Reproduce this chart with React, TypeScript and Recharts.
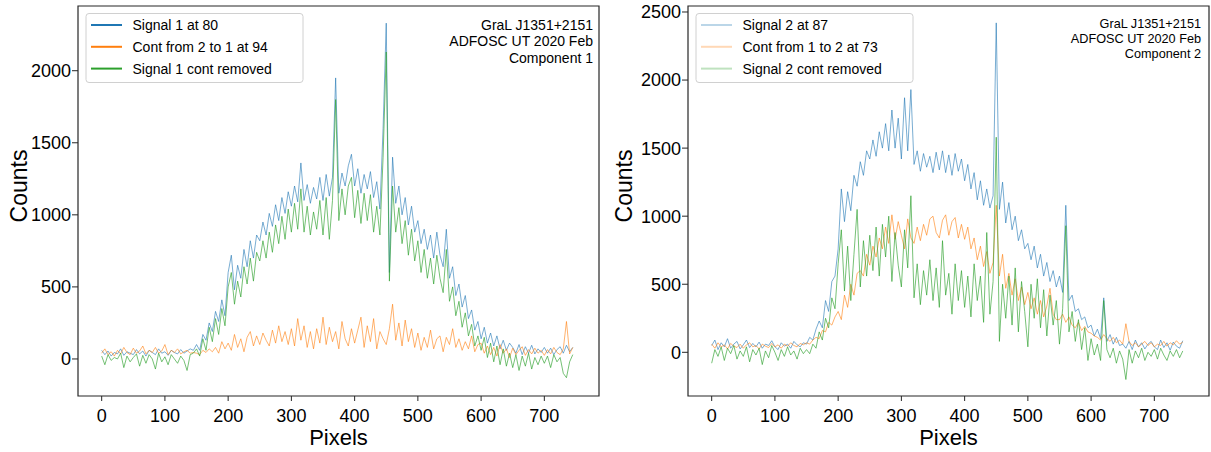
import { LineChart, Line, XAxis, YAxis, ReferenceArea } from 'recharts';

// detector pixel positions, sampled every 5 pixels
const pixels = Array.from({ length: 150 }, (_, i) => i * 5);
const xTicks = [0, 100, 200, 300, 400, 500, 600, 700];

// component 1
const signal1 = [
  60, 30, 55, 20, 45, 35, 70, 25, 50, 40,
  30, 65, 35, 55, 20, 60, 45, 30, 70, 40,
  50, 25, 60, 45, 35, 65, 40, 55, 70, 60,
  100, 60, 170, 130, 250, 190, 330, 260, 410, 300,
  600, 720, 480, 650, 560, 760, 640, 820, 700, 860,
  820, 950, 860, 1010, 920, 1070, 960, 1120, 1010, 1160,
  1060, 1200, 1090, 1360, 1100, 1210, 1080, 1190, 1110, 1260,
  1100, 1280, 1130, 1260, 1950, 1150, 1290, 1200, 1340, 1420,
  1200, 1320, 1150, 1280, 1180, 1300, 1120, 1230, 1040, 1600,
  2330, 600, 1400, 1080, 1200, 1000, 1120, 930, 1060, 880,
  960, 800, 900, 760, 860, 700, 880, 720, 640, 900,
  560, 640, 440, 520, 360, 440, 280, 340, 200, 260,
  140, 220, 110, 180, 90, 160, 70, 130, 60, 110,
  80, 40, 100, 30, 85, 40, 95, 35, 70, 45,
  80, 40, 75, 30, 65, 85, 40, 95, 50, 80,
];
const cont21 = [
  40, 70, 30, 50, 20, 60, 35, 80, 45, 30,
  75, 40, 55, 90, 35, 60, 45, 80, 40, 55,
  100, 30, 60, 45, 70, 35, 50, 60, 40, 45,
  40, 30, 60, 45, 70, 50, 80, 40, 120, 70,
  110, 60, 170, 80, 140, 50, 150, 190, 90, 160,
  100, 180, 130, 90, 200, 110, 230, 120, 190, 100,
  210, 90, 280, 130, 230, 80, 190, 70, 210, 110,
  290, 100, 220, 120, 190, 70, 260, 140, 90, 210,
  110, 200, 290, 80, 230, 120, 280, 70, 190, 140,
  100, 210, 380, 130, 250, 90, 270, 120, 210, 80,
  180, 60, 150, 80, 200, 70, 140, 160, 50, 150,
  100, 210, 80, 140, 60, 120, 70, 160, 50, 100,
  110, 40, 90, 30, 80, 20, 100, 40, 70, 10,
  75, 30, 60, 85, 25, 65, 35, 75, 40, 60,
  25, 65, 35, 80, 45, 30, 70, 260, 35, 80,
];
const clean1 = [
  20, -40, 30, -10, 10, 0, 40, -60, 20, -20,
  10, 35, -50, 25, -30, 30, 0, -70, 40, -20,
  15, -40, 30, 0, -30, 20, -10, -80, 30, 40,
  70, 20, 140, 60, 220, 120, 280, 170, 350, 230,
  500, 600, 380, 540, 430, 640, 520, 700, 540, 740,
  680, 820, 700, 880, 740, 930, 800, 990, 830, 1040,
  880, 1080, 900, 1180, 880, 1060, 860, 1020, 900, 1100,
  860, 1120, 830, 1100, 1800, 960, 1180, 1000, 1200, 1260,
  980, 1170, 940, 1150, 960, 1140, 880, 1060, 860, 1400,
  2130, 540, 1200, 880, 1050, 800, 960, 720, 900, 680,
  820, 600, 760, 560, 700, 520, 720, 560, 460, 760,
  400, 500, 300, 400, 220, 320, 160, 240, 90, 160,
  60, 150, 10, 110, -20, 90, -40, 70, -50, 40,
  -60, 30, -80, 20, -50, 40, -70, 10, -40, 20,
  -30, 20, -60, 30, -20, 10, -100, -130, -20, 30,
];

// component 2
const signal2 = [
  50, 90, 20, 70, 40, 100, 30, 60, 80, 25,
  55, 90, 35, 65, 40, 75, 30, 60, 50, 85,
  40, 20, 70, 45, 60, 30, 80, 55, 40, 70,
  60, 110, 90, 170, 230, 180, 380, 300, 520, 560,
  760, 1200, 960, 1180, 1040, 1300, 1220, 1400, 1300, 1480,
  1420, 1560, 1440, 1620, 1500, 1680, 1480, 1780, 1500, 1720,
  1420, 1870, 1480, 1930, 1380, 1480, 1330, 1460, 1360, 1440,
  1320, 1470, 1340, 1480, 1320, 1450, 1300, 1460, 1330, 1420,
  1260, 1380, 1200, 1320, 1120, 1260, 1080, 1200, 1060, 1150,
  2420, 1050, 1250, 950, 1100, 900, 1000, 820, 900, 760,
  800, 680, 780, 620, 720, 560, 660, 520, 600, 480,
  560, 440, 1080, 380, 420, 300, 320, 240, 260, 180,
  200, 120, 170, 100, 400, 80, 130, 60, 110, 50,
  60, 30, 80, 20, 90, 40, 70, 25, 60, 80,
  40, 20, 90, 35, 70, 15, 75, 45, 30, 85,
];
const cont12 = [
  60, 30, 70, 40, 55, 25, 65, 45, 35, 60,
  30, 55, 70, 40, 50, 25, 60, 45, 35, 65,
  40, 55, 30, 60, 45, 70, 50, 40, 65, 55,
  70, 60, 90, 110, 100, 160, 150, 220, 200, 260,
  300, 240, 420, 330, 500, 420, 580, 600, 560, 720,
  640, 780, 700, 840, 760, 920, 800, 1010, 830, 960,
  860, 760, 980, 840, 800, 920, 820, 940, 860, 980,
  1000, 880, 840, 970, 1010, 860, 960, 990, 840, 940,
  830, 920, 760, 840, 680, 780, 630, 740, 580, 660,
  1080, 560, 720, 470, 580, 420, 540, 380, 480, 350,
  440, 320, 400, 280, 380, 260, 340, 470, 280, 240,
  240, 280, 220, 260, 200, 180, 220, 160, 190, 150,
  140, 120, 110, 90, 130, 100, 80, 110, 70, 90,
  60, 210, 80, 50, 70, 40, 60, 80, 50, 70,
  40, 60, 50, 80, 45, 70, 55, 85, 60, 75,
];
const clean2 = [
  -80, 20, -30, 40, -60, 30, -10, 50, -50, 10,
  -30, 40, -70, 20, -20, 30, -90, 10, -40, 50,
  0, -60, 20, -30, 40, -20, 10, -50, 30, -10,
  20, -10, 60, 30, 150, 90, 250, 180, 400, 320,
  650, 900, 450, 780, 380, 720, 1050, 480, 820, 560,
  860, 600, 920, 560, 940, 700, 1000, 520, 880, 640,
  480, 900, 620, 1150, 400, 650, 350, 600, 420, 680,
  380, 620, 330, 820, 420, 580, 280, 650, 380, 600,
  330, 560, 260, 650, 380, 560, 220, 880, 280, 520,
  1580, 80, 500, 250, 560, 200, 620, 150, 520, 300,
  40, 500, 250, 540, 180, 460, 120, 420, 200, 380,
  60, 320, 930, 150, 300, 80, 240, 20, 180, -60,
  100, -20, 60, -60, 380, 20, -40, 30, -80, 10,
  -50, -200, 20, -80, 10, -40, 30, -60, 0, -30,
  20, -50, 30, -20, -60, 10, -30, 20, -40, 10,
];

const FONT = 'Liberation Sans, Arial, sans-serif';
const BLUE = '#1f77b4';
const ORANGE = '#ff7f0e';
const GREEN = '#2ca02c';
const X_DOMAIN: [number, number] = [-37.45, 786.45];

interface PanelProps {
  left: number;
  signal: number[];
  cont: number[];
  clean: number[];
  yDomain: [number, number];
  yTicks: number[];
}

function Panel({ left, signal, cont, clean, yDomain, yTicks }: PanelProps) {
  const data = pixels.map((px, i) => ({ px, signal: signal[i], cont: cont[i], clean: clean[i] }));
  const tick = { fill: '#000', fontSize: 18, fontFamily: FONT };
  return (
    <div style={{ position: 'absolute', left, top: 0 }}>
      <LineChart width={605} height={452} data={data} margin={{ top: 6, right: 6, left: 0, bottom: 0 }}>
        <XAxis
          dataKey="px"
          type="number"
          domain={X_DOMAIN}
          ticks={xTicks}
          allowDataOverflow
          height={56}
          axisLine={false}
          tickSize={5}
          tickMargin={8}
          tickLine={{ stroke: '#262626' }}
          tick={tick}
        />
        <YAxis
          type="number"
          domain={yDomain}
          ticks={yTicks}
          allowDataOverflow
          width={78}
          axisLine={false}
          tickSize={6}
          tickMargin={1}
          tickLine={{ stroke: '#262626' }}
          tick={tick}
        />
        <Line type="linear" dataKey="signal" stroke={BLUE} strokeOpacity={0.6} strokeWidth={1} dot={false} isAnimationActive={false} />
        <Line type="linear" dataKey="cont" stroke={ORANGE} strokeOpacity={0.6} strokeWidth={1} dot={false} isAnimationActive={false} />
        <Line type="linear" dataKey="clean" stroke={GREEN} strokeOpacity={0.65} strokeWidth={1} dot={false} isAnimationActive={false} />
        <ReferenceArea
          x1={X_DOMAIN[0]}
          x2={X_DOMAIN[1]}
          y1={yDomain[0]}
          y2={yDomain[1]}
          fill="none"
          stroke="#262626"
          strokeWidth={1.2}
          ifOverflow="visible"
        />
      </LineChart>
    </div>
  );
}

function Legend({ x, labels, opacity }: { x: number; labels: string[]; opacity: number }) {
  const colors = [BLUE, ORANGE, GREEN];
  return (
    <g>
      <rect x={x} y={13.5} width={217} height={69} rx={3} fill="#fff" fillOpacity={0.8} stroke="#d0d0d0" />
      {labels.map((lab, i) => (
        <g key={lab}>
          <line x1={x + 5} x2={x + 36} y1={25 + i * 21.8} y2={25 + i * 21.8} stroke={colors[i]} strokeOpacity={opacity} strokeWidth={2} />
          <text x={x + 46.5} y={30 + i * 21.8} fontSize={14} fontFamily={FONT} fill="#000">{lab}</text>
        </g>
      ))}
    </g>
  );
}

function Notes({ x, lines, size, y0, step }: { x: number; lines: string[]; size: number; y0: number; step: number }) {
  return (
    <g>
      {lines.map((t, i) => (
        <text key={t} x={x} y={y0 + i * step} textAnchor="end" fontSize={size} fontFamily={FONT} fill="#000">{t}</text>
      ))}
    </g>
  );
}

export default function App() {
  return (
    <div style={{ position: 'absolute', left: 0, top: 0, width: 1211, height: 452, background: '#fff' }}>
      <Panel left={0} signal={signal1} cont={cont21} clean={clean1} yDomain={[-257, 2449]} yTicks={[0, 500, 1000, 1500, 2000]} />
      <Panel left={610} signal={signal2} cont={cont12} clean={clean2} yDomain={[-321, 2544]} yTicks={[0, 500, 1000, 1500, 2000, 2500]} />
      <svg width={1211} height={452} style={{ position: 'absolute', left: 0, top: 0, pointerEvents: 'none' }}>
        <Legend x={86} labels={['Signal 1 at 80', 'Cont from 2 to 1 at 94', 'Signal 1 cont removed']} opacity={1} />
        <Legend x={696} labels={['Signal 2 at 87', 'Cont from 1 to 2 at 73', 'Signal 2 cont removed']} opacity={0.3} />
        <Notes x={593} lines={['GraL J1351+2151', 'ADFOSC UT 2020 Feb', 'Component 1']} size={14} y0={30} step={16.3} />
        <Notes x={1201} lines={['GraL J1351+2151', 'ADFOSC UT 2020 Feb', 'Component 2']} size={12.7} y0={27.8} step={15} />
        <text x={338.5} y={445} textAnchor="middle" fontSize={22} fontFamily={FONT}>Pixels</text>
        <text x={948.5} y={445} textAnchor="middle" fontSize={22} fontFamily={FONT}>Pixels</text>
        <text transform="translate(27,186) rotate(-90)" textAnchor="middle" fontSize={23} fontFamily={FONT}>Counts</text>
        <text transform="translate(632,186) rotate(-90)" textAnchor="middle" fontSize={23} fontFamily={FONT}>Counts</text>
      </svg>
    </div>
  );
}
